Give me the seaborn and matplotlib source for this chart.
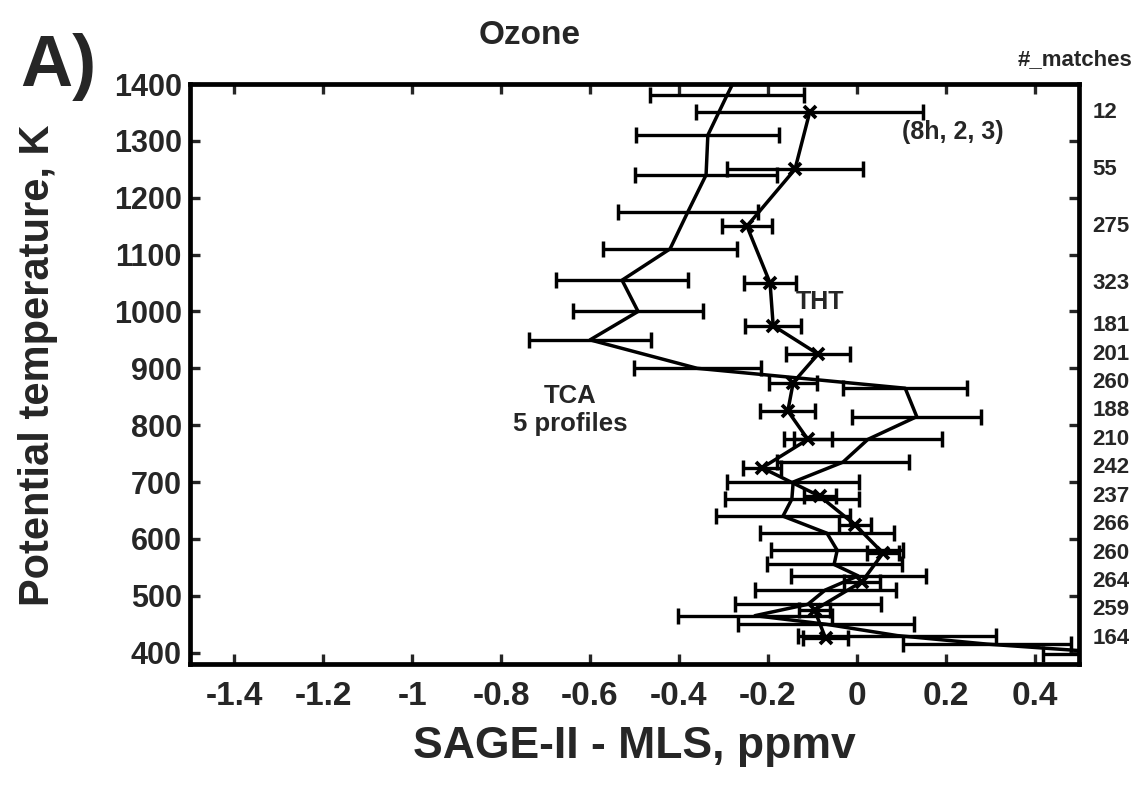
import matplotlib
matplotlib.use("Agg")
import matplotlib.pyplot as plt
import numpy as np
import pandas as pd
import seaborn as sns

# THT matched profiles: potential temperature levels (K), mean difference and spread (ppmv)
theta_tht = [1350, 1250, 1150, 1050, 975, 925, 875, 825, 775, 725, 675, 625, 575, 525, 475, 425]
diff_tht = [-0.106, -0.139, -0.247, -0.195, -0.188, -0.087, -0.143, -0.155, -0.110, -0.213,
            -0.083, -0.004, 0.059, 0.012, -0.095, -0.070]
err_tht = [0.256, 0.153, 0.057, 0.058, 0.063, 0.072, 0.054, 0.062, 0.054, 0.043,
           0.036, 0.035, 0.037, 0.040, 0.035, 0.050]
n_matches = [12, 55, 275, 323, 181, 201, 260, 188, 210, 242, 237, 266, 260, 264, 259, 164]

# TCA campaign, 5 profiles
theta_tca = [1430, 1380, 1310, 1240, 1175, 1110, 1055, 1000, 950, 900, 865, 815, 775, 735,
             700, 670, 640, 610, 580, 555, 535, 510, 485, 465, 450, 430, 415, 397]
diff_tca = [-0.260, -0.292, -0.335, -0.339, -0.380, -0.420, -0.528, -0.492, -0.600, -0.359,
            0.109, 0.135, 0.025, -0.031, -0.143, -0.146, -0.166, -0.067, -0.044, -0.051,
            0.003, -0.071, -0.110, -0.229, -0.070, 0.091, 0.293, 0.620]
err_tca = [0.170, 0.174, 0.161, 0.159, 0.157, 0.150, 0.149, 0.146, 0.138, 0.143,
           0.140, 0.145, 0.166, 0.149, 0.149, 0.150, 0.150, 0.151, 0.149, 0.152,
           0.152, 0.159, 0.164, 0.173, 0.198, 0.223, 0.190, 0.200]

x_ticks = [-1.4, -1.2, -1.0, -0.8, -0.6, -0.4, -0.2, 0.0, 0.2, 0.4]
x_tick_labels = ["-1.4", "-1.2", "-1", "-0.8", "-0.6", "-0.4", "-0.2", "0", "0.2", "0.4"]
y_ticks = [400, 500, 600, 700, 800, 900, 1000, 1100, 1200, 1300, 1400]

sns.set_theme(style="ticks")
plt.rcParams["font.family"] = ["Liberation Sans", "DejaVu Sans"]
plt.rcParams["font.weight"] = "bold"

W, H = 1139, 793
fig = plt.figure(figsize=(W / 100, H / 100), dpi=100)
left, right, top, bottom = 190, 1079, 84, 664
ax = fig.add_axes([left / W, 1 - bottom / H, (right - left) / W, (bottom - top) / H])

tht = pd.DataFrame({"theta": theta_tht, "diff": diff_tht, "err": err_tht})
tca = pd.DataFrame({"theta": theta_tca, "diff": diff_tca, "err": err_tca})

lw = 2.5
# profile lines, joined in altitude order
sns.lineplot(data=tca, x="diff", y="theta", sort=False, estimator=None, color="black",
             linewidth=lw, ax=ax)
sns.lineplot(data=tht, x="diff", y="theta", sort=False, estimator=None, color="black",
             linewidth=lw, marker="x", markersize=9, markeredgewidth=2.7,
             markeredgecolor="black", ax=ax)

for df in (tca, tht):
    ax.errorbar(df["diff"], df["theta"], xerr=df["err"], fmt="none", ecolor="black",
                elinewidth=2.4, capsize=6, capthick=2.5)

ax.set_xlim(-1.5, 0.5)
ax.set_ylim(380, 1400)
ax.set_xticks(x_ticks)
ax.set_xticklabels(x_tick_labels)
ax.set_yticks(y_ticks)
ax.tick_params(direction="in", length=7, width=2.4, top=True, right=True,
               labelright=False, labeltop=False)
ax.tick_params(axis="x", labelsize=24, pad=12)
ax.tick_params(axis="y", labelsize=22, pad=6)
for lab in ax.get_xticklabels() + ax.get_yticklabels():
    lab.set_fontweight("bold")
for sp in ax.spines.values():
    sp.set_linewidth(3.4)
    sp.set_color("black")

ax.set_xlabel("SAGE-II - MLS, ppmv", fontsize=32, fontweight="bold", labelpad=10)
ax.set_ylabel("")
fig.text(38 / W, 1 - 365 / H, "Potential temperature, K", fontsize=30, fontweight="bold",
         rotation=90, ha="center", va="center")

# annotations inside the panel
ax.text(-0.082, 1016, "THT", fontsize=18, fontweight="bold", ha="center", va="center")
ax.text(-0.645, 827, "TCA\n5 profiles", fontsize=18.5, fontweight="bold", ha="center",
        va="center", linespacing=1.2)
ax.text(0.215, 1316, "(8h, 2, 3)", fontsize=18, fontweight="bold", ha="center", va="center")

# number of matches per level, outside the right spine
for th, n in zip(theta_tht, n_matches):
    ax.text(1.015, th, str(n), transform=ax.get_yaxis_transform(), fontsize=16,
            fontweight="bold", ha="left", va="center", clip_on=False)

fig.text(1132 / W, 1 - 60 / H, "#_matches", fontsize=16, fontweight="bold",
         ha="right", va="center")
fig.text(530 / W, 1 - 35 / H, "Ozone", fontsize=24, fontweight="bold",
         ha="center", va="center")
fig.text(58 / W, 1 - 67 / H, "A)", fontsize=52, fontweight="bold",
         ha="center", va="center")

fig.savefig("out.png", dpi=100, facecolor="white")
